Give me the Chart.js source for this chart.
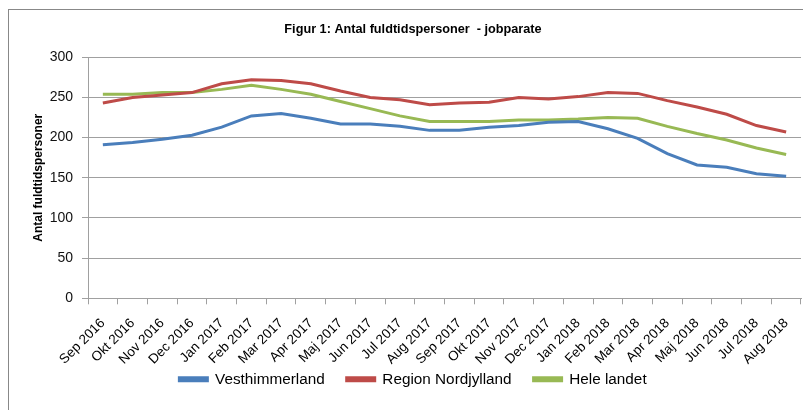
<!DOCTYPE html>
<html>
<head>
<meta charset="utf-8">
<script src="https://cdn.jsdelivr.net/npm/chart.js@4"></script>
<style>
  html, body { margin: 0; padding: 0; background: #fff; overflow: hidden; width: 803px; height: 410px; }
  #frame { position: absolute; left: 8px; top: 9px; width: 830px; height: 430px; border: 1px solid #888; box-sizing: border-box; }
  #myChart { position: absolute; left: 0; top: 0; }
</style>
</head>
<body>
<div id="frame"></div>
<canvas id="myChart" width="826" height="410"></canvas>
<script>
const months = ['Sep 2016', 'Okt 2016', 'Nov 2016', 'Dec 2016', 'Jan 2017', 'Feb 2017', 'Mar 2017', 'Apr 2017',
  'Maj 2017', 'Jun 2017', 'Jul 2017', 'Aug 2017', 'Sep 2017', 'Okt 2017', 'Nov 2017', 'Dec 2017',
  'Jan 2018', 'Feb 2018', 'Mar 2018', 'Apr 2018', 'Maj 2018', 'Jun 2018', 'Jul 2018', 'Aug 2018'];
const vesthimmerland = [191, 194, 198, 203, 213, 227, 230, 224, 217, 217, 214, 209, 209, 213, 215, 219, 220, 211, 199, 180, 166, 163, 155, 152];
const nordjylland = [243, 250, 253, 256, 267, 272, 271, 267, 258, 250, 247, 241, 243, 244, 250, 248, 251, 256, 255, 246, 238, 229, 215, 207];
const heleLandet = [254, 254, 256, 256, 260, 265, 260, 254, 245, 236, 227, 220, 220, 220, 222, 222, 223, 225, 224, 214, 205, 197, 187, 179];
const yTicks = [0, 50, 100, 150, 200, 250, 300];

const ctx = document.getElementById('myChart');
const gridColor = '#a0a0a0';

function line(label, data, color) {
  return {
    label: label,
    data: data,
    borderColor: color,
    backgroundColor: color,
    borderWidth: 3,
    pointRadius: 0,
    tension: 0
  };
}

new Chart(ctx, {
  type: 'line',
  data: {
    labels: months,
    datasets: [
      line('Vesthimmerland', vesthimmerland, '#4a7ebb'),
      line('Region Nordjylland', nordjylland, '#be4b48'),
      line('Hele landet', heleLandet, '#98b954')
    ]
  },
  options: {
    responsive: false,
    animation: false,
    layout: { padding: { left: 0, right: 0, top: 0, bottom: 13 } },
    plugins: {
      title: {
        display: true,
        text: 'Figur 1: Antal fuldtidspersoner  - jobparate',
        color: '#000',
        font: { family: 'Liberation Sans', size: 12.7, weight: 'bold' },
        padding: { top: 22, bottom: 20 }
      },
      legend: {
        position: 'bottom',
        labels: {
          color: '#000',
          font: { family: 'Liberation Sans', size: 15.3 },
          boxWidth: 28,
          boxHeight: 3,
          padding: 22
        }
      },
      tooltip: { enabled: false }
    },
    scales: {
      x: {
        offset: true,
        grid: { offset: true, drawOnChartArea: false, drawTicks: true, tickLength: 6, color: gridColor },
        border: { color: gridColor },
        ticks: {
          color: '#000',
          font: { family: 'Liberation Sans', size: 13.5 },
          minRotation: 45,
          maxRotation: 45,
          autoSkip: false,
          padding: 11
        },
        afterFit: (scale) => {
          scale.height = 51.4;
          // rotated labels run a bit into the legend band, don't clip them
          scale._computeLabelArea = () => null;
        }
      },
      y: {
        min: 0,
        max: 300,
        afterBuildTicks: (scale) => { scale.ticks = yTicks.map(v => ({ value: v })); },
        grid: { color: gridColor, tickLength: 6 },
        border: { color: gridColor },
        ticks: {
          color: '#111',
          font: { family: 'Liberation Sans', size: 14 },
          padding: 9
        },
        title: {
          display: true,
          text: 'Antal fuldtidspersoner',
          color: '#000',
          font: { family: 'Liberation Sans', size: 12, weight: 'bold' },
          padding: { top: 31, bottom: 0 }
        },
        afterFit: (scale) => { scale.width = 88; }
      },
      // empty right-hand axis: only reserves space so the plot ends at x=801
      spacer: {
        type: 'linear',
        position: 'right',
        min: 0,
        max: 300,
        grid: { drawOnChartArea: false, drawTicks: false },
        border: { display: false },
        ticks: { display: false },
        afterFit: (scale) => { scale.width = 25; }
      }
    }
  }
});
</script>
</body>
</html>
